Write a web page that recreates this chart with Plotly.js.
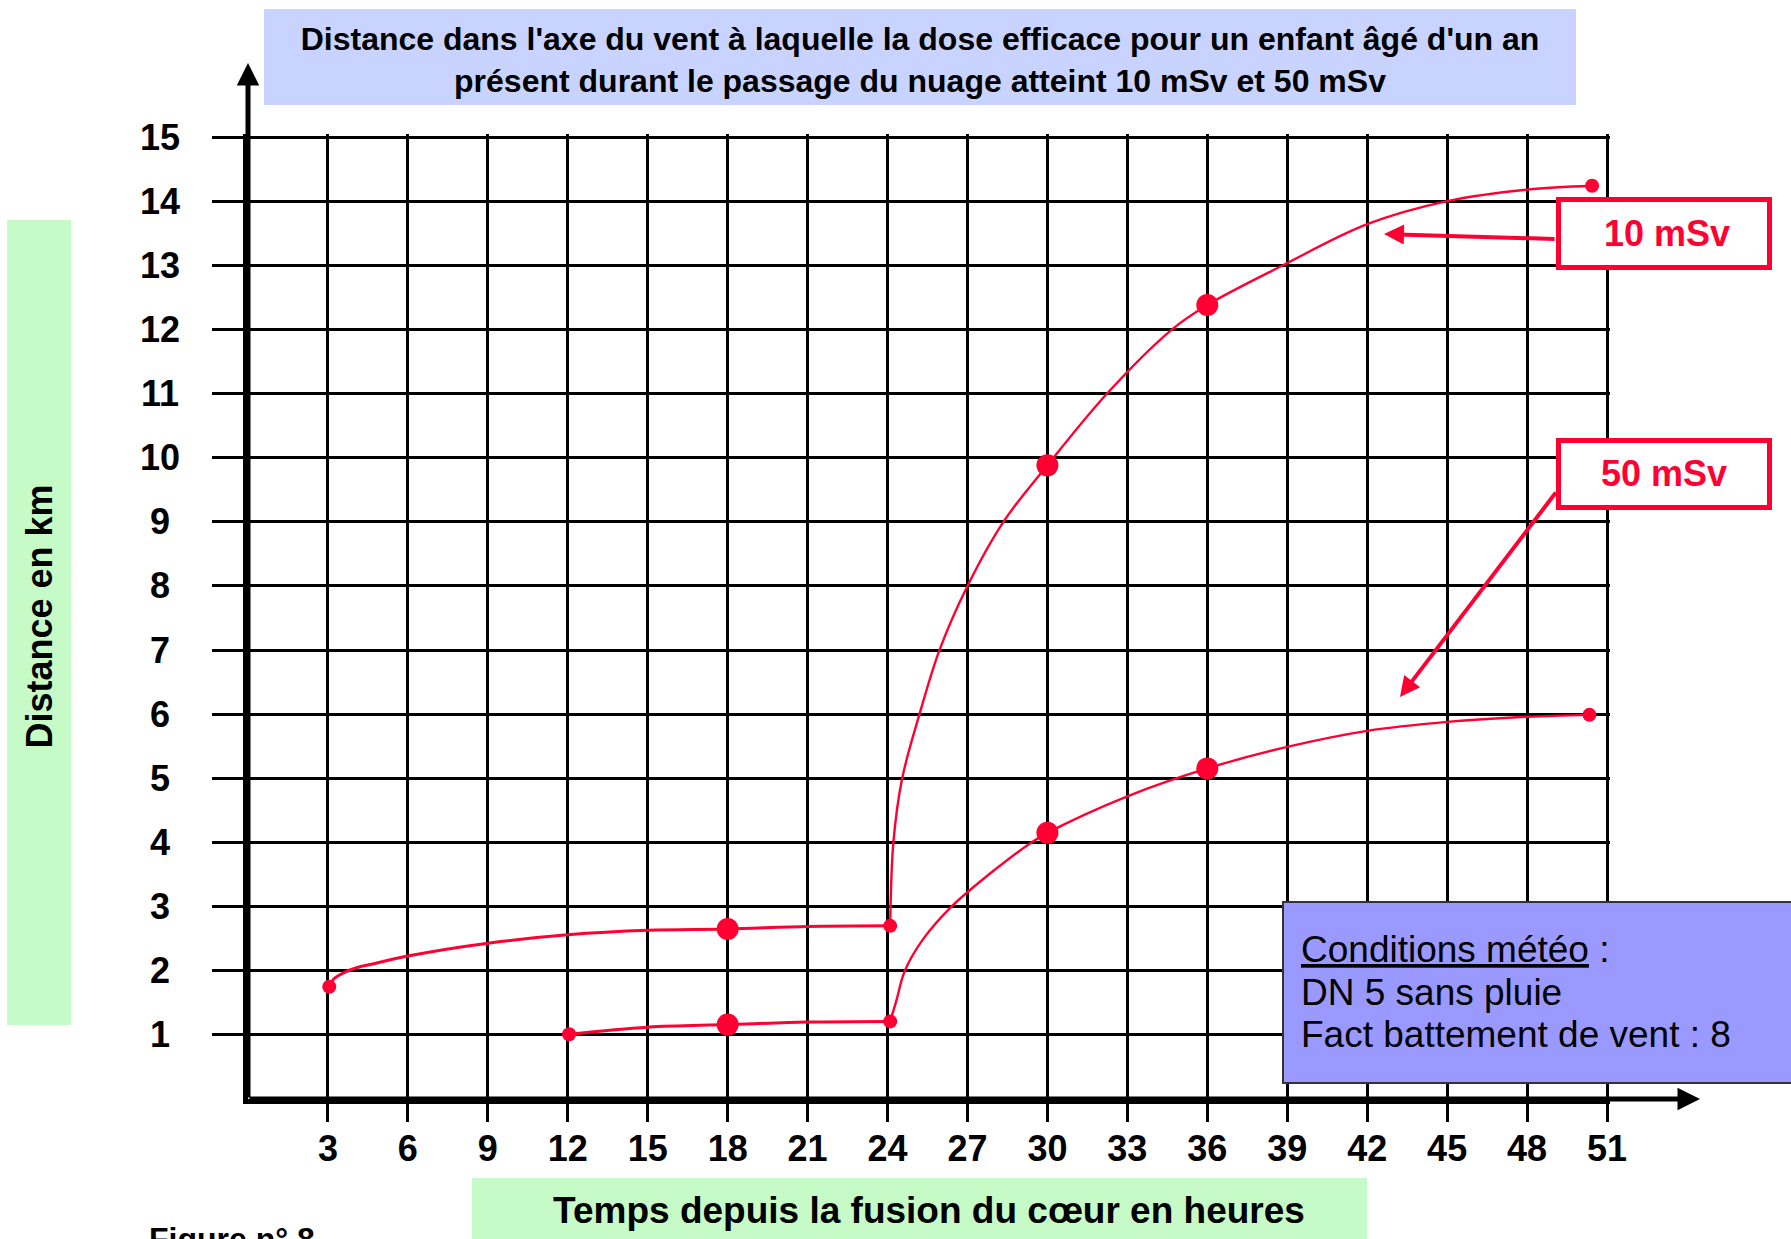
<!DOCTYPE html>
<html>
<head>
<meta charset="utf-8">
<script src="https://cdn.plot.ly/plotly-3.0.1.min.js"></script>
<style>html,body{margin:0;padding:0;background:#fff;}</style>
</head>
<body>
<div id="chart" style="width:1791px;height:1239px;"></div>
<script>
// ---------- data ----------
const xTickVals = [3, 6, 9, 12, 15, 18, 21, 24, 27, 30, 33, 36, 39, 42, 45, 48, 51];
const xTickText = ['3', '6', '9', '12', '15', '18', '21', '24', '27', '30', '33', '36', '39', '42', '45', '48', '51'];
const yTickVals = [1, 2, 3, 4, 5, 6, 7, 8, 9, 10, 11, 12, 13, 14, 15];
const yTickText = ['1', '2', '3', '4', '5', '6', '7', '8', '9', '10', '11', '12', '13', '14', '15'];

// 10 mSv curve
const hours10a = [3.05, 3.22, 3.6, 4.1, 4.73, 6, 9, 12, 15, 18, 21, 24.1];
const dist10a  = [1.75, 1.87, 1.97, 2.05, 2.11, 2.23, 2.43, 2.56, 2.63, 2.65, 2.69, 2.70];
const hours10b = [24.1, 24.22, 24.55, 25.2, 25.95, 27.0, 28.35, 30, 32.24, 34.68, 36, 38.84, 42, 45, 48, 50.44];
const dist10b  = [2.70, 4.0, 5.0, 6.0, 7.0, 8.0, 9.0, 9.88, 11.0, 12.0, 12.38, 13.0, 13.64, 14.0, 14.18, 14.24];
const big10Hours = [18, 30, 36];
const big10Dist  = [2.65, 9.88, 12.38];
const small10Hours = [3.05, 24.1, 50.44];
const small10Dist  = [1.75, 2.70, 14.24];

// 50 mSv curve
const hours50a = [12.05, 15, 18, 21, 24.1];
const dist50a  = [1.01, 1.12, 1.16, 1.20, 1.21];
const hours50b = [24.1, 24.33, 24.65, 25.35, 26.4, 27.8, 29.4, 30, 33, 36, 39, 42, 45, 48, 50.34];
const dist50b  = [1.21, 1.53, 2.0, 2.5, 3.0, 3.5, 4.0, 4.15, 4.72, 5.155, 5.49, 5.74, 5.88, 5.96, 5.99];
const big50Hours = [18, 30, 36];
const big50Dist  = [1.16, 4.15, 5.155];
const small50Hours = [12.05, 24.1, 50.34];
const small50Dist  = [1.01, 1.21, 5.99];

const titleLines = ["Distance dans l'axe du vent à laquelle la dose efficace pour un enfant âgé d'un an",
                    "présent durant le passage du nuage atteint 10 mSv et 50 mSv"];
const xTitle = "Temps depuis la fusion du cœur en heures";
const yTitle = "Distance en km";
const meteoLines = ['<span style="text-decoration:underline">Conditions météo</span> :',
                    'DN 5 sans pluie',
                    'Fact battement de vent : 8'];
const seriesLabels = ['10 mSv', '50 mSv'];
const figureLabel = 'Figure n° 8';

// ---------- layout helpers ----------
const FONT = 'Liberation Sans, Arial, Helvetica, sans-serif';
const RED = 'rgb(255,0,51)';
const PL = 248, PR = 1610, PT = 134, PB = 1099;   // plot area in page pixels
const px = v => (v - PL) / (PR - PL);             // page x pixel -> paper
const py = v => (PB - v) / (PB - PT);             // page y pixel -> paper

function lineTrace(x, y, w, name) {
  return {x: x, y: y, type: 'scatter', mode: 'lines', name: name,
          line: {color: RED, width: w, shape: 'spline', smoothing: 1},
          hoverinfo: 'x+y', showlegend: false, cliponaxis: false};
}
function dotTrace(x, y, s, name) {
  return {x: x, y: y, type: 'scatter', mode: 'markers', name: name,
          marker: {color: RED, size: s, line: {width: 0}},
          hoverinfo: 'x+y', showlegend: false, cliponaxis: false};
}

const traces = [
  lineTrace(hours10a, dist10a, 3, '10 mSv'),
  lineTrace(hours10b, dist10b, 2.4, '10 mSv'),
  lineTrace(hours50a, dist50a, 3, '50 mSv'),
  lineTrace(hours50b, dist50b, 2.4, '50 mSv'),
  dotTrace(big10Hours, big10Dist, 22, '10 mSv'),
  dotTrace(small10Hours, small10Dist, 14, '10 mSv'),
  dotTrace(big50Hours, big50Dist, 22, '50 mSv'),
  dotTrace(small50Hours, small50Dist, 14, '50 mSv')
];

const shapes = [
  // title band
  {type: 'rect', xref: 'paper', yref: 'paper', x0: px(264), x1: px(1576), y0: py(105), y1: py(9),
   fillcolor: 'rgb(200,211,255)', line: {width: 0}, layer: 'below'},
  // y title band
  {type: 'rect', xref: 'paper', yref: 'paper', x0: px(7), x1: px(71), y0: py(1025), y1: py(220),
   fillcolor: 'rgb(198,250,198)', line: {width: 0}, layer: 'below'},
  // x title band
  {type: 'rect', xref: 'paper', yref: 'paper', x0: px(472), x1: px(1367), y0: py(1260), y1: py(1178),
   fillcolor: 'rgb(198,250,198)', line: {width: 0}, layer: 'below'},
  // meteo box
  {type: 'rect', xref: 'paper', yref: 'paper', x0: px(1283), x1: px(1800), y0: py(1083), y1: py(902),
   fillcolor: 'rgb(153,153,255)', line: {width: 2, color: '#333'}, layer: 'above'},
  // series label boxes
  {type: 'rect', xref: 'paper', yref: 'paper', x0: px(1558.5), x1: px(1769.5), y0: py(267.5), y1: py(199.5),
   fillcolor: '#fff', line: {width: 5, color: RED}, layer: 'above'},
  {type: 'rect', xref: 'paper', yref: 'paper', x0: px(1558.5), x1: px(1769.5), y0: py(507.5), y1: py(440.5),
   fillcolor: '#fff', line: {width: 5, color: RED}, layer: 'above'}
];

const annotations = [];
// y tick labels (centred)
yTickVals.forEach((v, i) => annotations.push({
  x: px(160), xref: 'paper', y: v, yref: 'y', text: '<b>' + yTickText[i] + '</b>', showarrow: false,
  xanchor: 'center', yanchor: 'middle', font: {family: FONT, size: 36, color: '#000'}
}));
// axis arrows
annotations.push({x: 0, xref: 'paper', y: py(63), yref: 'paper', ax: 0, ay: PB - 63, axref: 'pixel', ayref: 'pixel',
  text: '', showarrow: true, arrowhead: 2, arrowsize: 0.9, arrowwidth: 5, arrowcolor: '#000', standoff: 0, startstandoff: 0});
annotations.push({x: px(1700), xref: 'paper', y: 0, yref: 'paper', ax: -(1700 - PL), ay: 0,
  text: '', showarrow: true, arrowhead: 2, arrowsize: 0.9, arrowwidth: 5, arrowcolor: '#000', standoff: 0, startstandoff: 0});
// series label arrows
annotations.push({x: px(1384), xref: 'paper', y: py(234), yref: 'paper', ax: 172, ay: 5,
  text: '', showarrow: true, arrowhead: 2, arrowsize: 1, arrowwidth: 4, arrowcolor: RED, standoff: 0, startstandoff: 0});
annotations.push({x: px(1400), xref: 'paper', y: py(697), yref: 'paper', ax: 157, ay: -206,
  text: '', showarrow: true, arrowhead: 2, arrowsize: 1, arrowwidth: 4, arrowcolor: RED, standoff: 0, startstandoff: 0});
// series labels
annotations.push({x: px(1667), xref: 'paper', y: py(233), yref: 'paper', text: '<b>' + seriesLabels[0] + '</b>',
  showarrow: false, xanchor: 'center', yanchor: 'middle', font: {family: FONT, size: 36, color: RED}});
annotations.push({x: px(1664), xref: 'paper', y: py(473), yref: 'paper', text: '<b>' + seriesLabels[1] + '</b>',
  showarrow: false, xanchor: 'center', yanchor: 'middle', font: {family: FONT, size: 36, color: RED}});
// meteo text
[950, 992, 1034].forEach((yy, i) => annotations.push({
  x: px(1299), xref: 'paper', y: py(yy), yref: 'paper', text: meteoLines[i], showarrow: false,
  xanchor: 'left', yanchor: 'middle', align: 'left', font: {family: FONT, size: 37, color: '#000'}
}));
// figure label
annotations.push({x: px(147), xref: 'paper', y: py(1239), yref: 'paper', text: '<b>' + figureLabel + '</b>',
  showarrow: false, xanchor: 'left', yanchor: 'middle', font: {family: FONT, size: 32, color: '#000'}});

const layout = {
  width: 1791, height: 1239,
  margin: {l: PL, r: 1791 - PR, t: PT, b: 1239 - PB, pad: 0},
  paper_bgcolor: '#fff', plot_bgcolor: '#fff',
  showlegend: false,
  title: {text: '<b>' + titleLines[0] + '<br>' + titleLines[1] + '</b>',
          font: {family: FONT, size: 32, color: '#000'},
          xref: 'container', x: 920 / 1791, xanchor: 'center',
          yref: 'container', y: 1 - 50 / 1239, yanchor: 'middle'},
  xaxis: {
    range: [0, (PR - PL) / (1359 / 51)], tickmode: 'array', tickvals: xTickVals, ticktext: xTickText,
    showgrid: true, gridcolor: '#000', gridwidth: 3, zeroline: false,
    showline: true, linecolor: '#000', linewidth: 5,
    ticks: 'outside', ticklen: 18, tickwidth: 3, tickcolor: '#000',
    tickfont: {family: FONT, size: 36, color: '#000', weight: 'bold'},
    ticklabelstandoff: -4,
    title: {text: '<b>' + xTitle + '</b>', font: {family: FONT, size: 37, color: '#000'}, standoff: 30},
    fixedrange: true
  },
  yaxis: {
    range: [0, (PB - PT) / (962 / 15)], tickmode: 'array', tickvals: yTickVals, ticktext: yTickText,
    showticklabels: false,
    showgrid: true, gridcolor: '#000', gridwidth: 3, zeroline: false,
    showline: true, linecolor: '#000', linewidth: 5,
    ticks: 'outside', ticklen: 31, tickwidth: 3, tickcolor: '#000',
    title: {text: '<b>' + yTitle + '</b>', font: {family: FONT, size: 36, color: '#000'}, standoff: 150},
    fixedrange: true
  },
  shapes: shapes,
  annotations: annotations
};

Plotly.newPlot('chart', traces, layout, {displayModeBar: false, staticPlot: false, responsive: false});
</script>
</body>
</html>
